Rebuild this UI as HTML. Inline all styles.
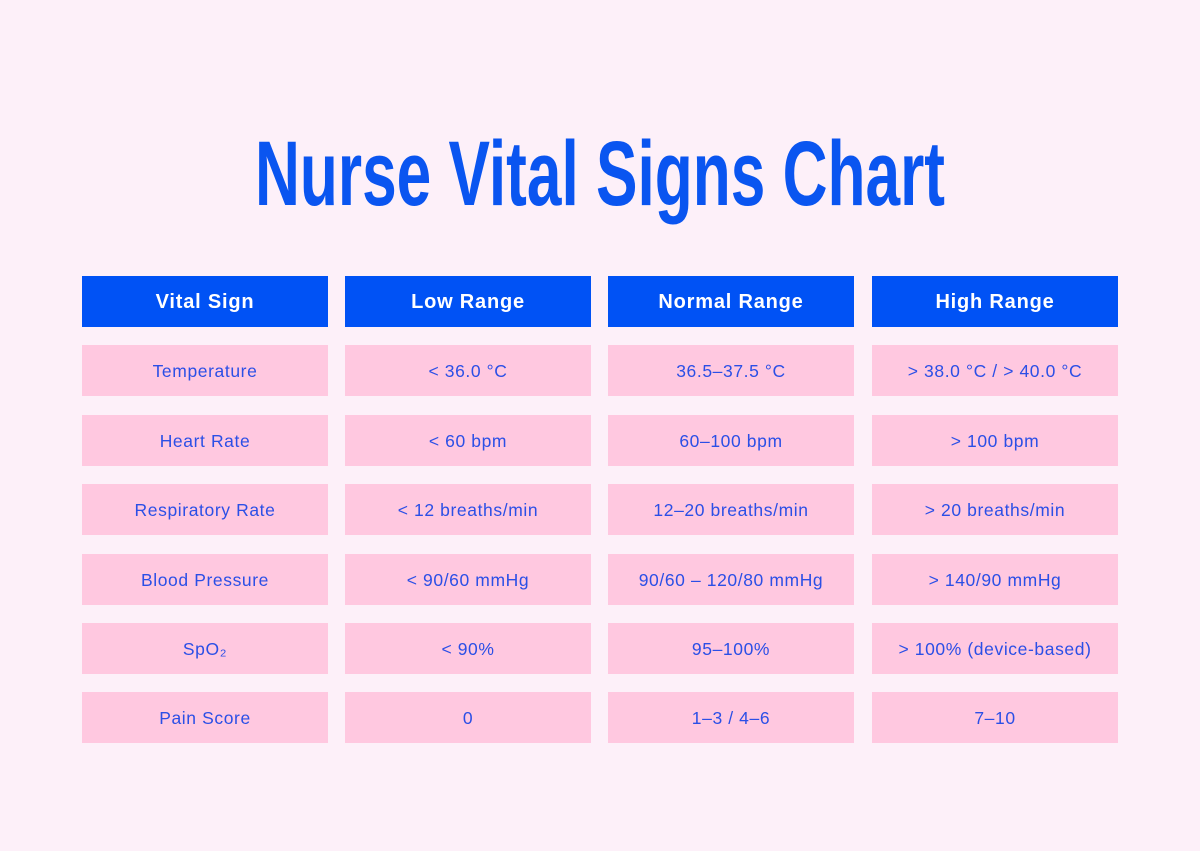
<!DOCTYPE html>
<html><head><meta charset="utf-8"><style>
body{margin:0;width:1200px;height:851px;background:#fdf0f9;position:relative;overflow:hidden;font-family:"Liberation Sans",sans-serif}
.c{position:absolute;width:246px;display:flex;align-items:center;justify-content:center;font-size:17.5px;color:#2b4fe6;letter-spacing:0.6px;padding-top:2px;box-sizing:border-box}
.h{background:#0052f5;color:#fff;font-weight:bold;font-size:20px;height:51px;letter-spacing:0.8px}
.p{background:#ffc8e0;height:51px}
</style></head><body>
<svg width="1200" height="240" style="position:absolute;left:0;top:0">
<text x="255" y="205" textLength="690" lengthAdjust="spacingAndGlyphs" font-family="Liberation Sans Narrow, Liberation Sans, sans-serif" font-weight="bold" font-size="92" fill="#0a55f0">Nurse Vital Signs Chart</text>
</svg>
<div id="t"></div>
<script>
var xs=[82,345,608,872],ys=[345,415,484,554,623,692];
var H=["Vital Sign","Low Range","Normal Range","High Range"];
var R=[["Temperature","&lt; 36.0 °C","36.5–37.5 °C","&gt; 38.0 °C / &gt; 40.0 °C"],
["Heart Rate","&lt; 60 bpm","60–100 bpm","&gt; 100 bpm"],
["Respiratory Rate","&lt; 12 breaths/min","12–20 breaths/min","&gt; 20 breaths/min"],
["Blood Pressure","&lt; 90/60 mmHg","90/60 – 120/80 mmHg","&gt; 140/90 mmHg"],
["SpO₂","&lt; 90%","95–100%","&gt; 100% (device-based)"],
["Pain Score","0","1–3 / 4–6","7–10"]];
var s="";
for(var j=0;j<4;j++){s+='<div class="c h" style="left:'+xs[j]+'px;top:276px">'+H[j]+'</div>';
for(var i=0;i<6;i++)s+='<div class="c p" style="left:'+xs[j]+'px;top:'+ys[i]+'px">'+R[i][j]+'</div>';}
document.getElementById("t").innerHTML=s;
</script>
</body></html>
